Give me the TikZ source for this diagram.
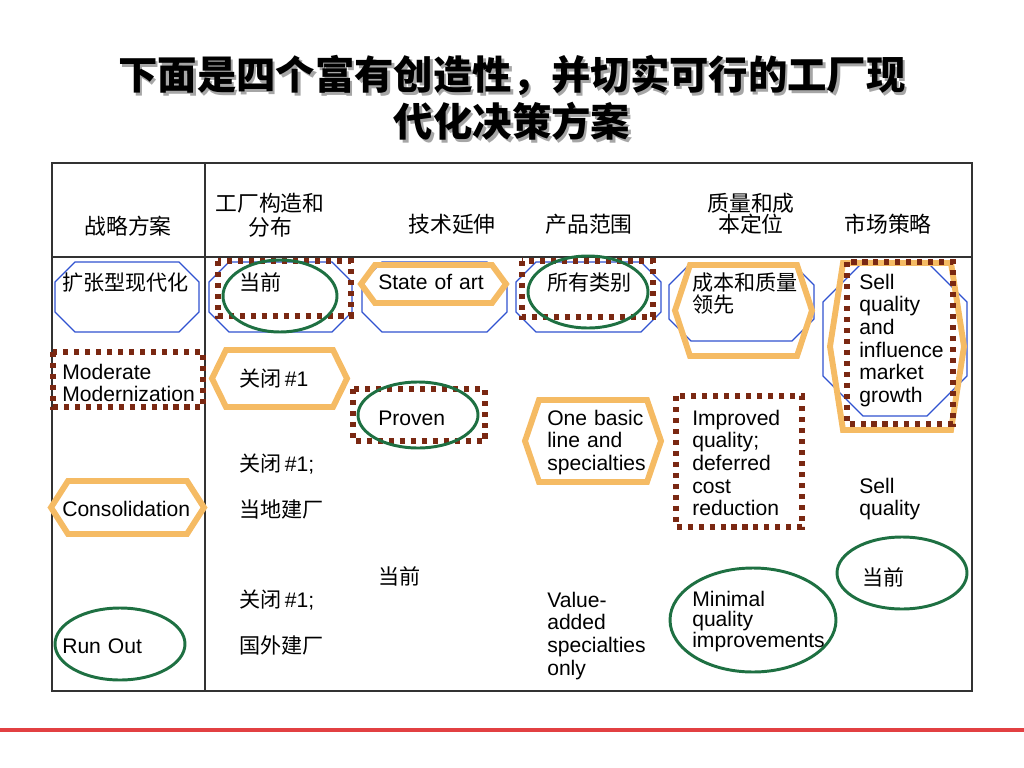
\documentclass[tikz,border=0pt]{standalone}
\usepackage{fontspec}
\setmainfont{Liberation Sans}
\newfontfamily\cjk{Noto Sans CJK SC}
\usetikzlibrary{positioning}
\definecolor{octblue}{RGB}{48,82,208}
\definecolor{hexorange}{RGB}{245,187,100}
\definecolor{dotbrown}{RGB}{122,40,18}
\definecolor{ringgreen}{RGB}{30,112,66}
\definecolor{rulered}{RGB}{226,64,66}
\definecolor{gridgray}{RGB}{50,50,50}
\newcommand{\zh}[1]{{\cjk #1}}
\newcommand{\octbox}[5]{\draw[octline] ({#1+#5},#2) -- ({#3-#5},#2) -- (#3,{#2+#5}) -- (#3,{#4-#5}) -- ({#3-#5},#4) -- ({#1+#5},#4) -- (#1,{#4-#5}) -- (#1,{#2+#5}) -- cycle;}
\newcommand{\hexbox}[5]{\draw[hexline] (#1,{(#2+#4)/2}) -- ({#1+#5},#2) -- ({#3-#5},#2) -- (#3,{(#2+#4)/2}) -- ({#3-#5},#4) -- ({#1+#5},#4) -- cycle;}
\begin{document}
\begin{tikzpicture}[x=0.025cm,y=-0.025cm,
		octline/.style={draw=octblue,line width=0.8pt},
		hexline/.style={draw=hexorange,line width=4.2pt},
		dotline/.style={draw=dotbrown,line width=3.6pt,dash pattern=on 3.6pt off 4.2pt},
		ring/.style={draw=ringgreen,line width=2.1pt},
		gridline/.style={draw=gridgray,line width=1pt},
		cell/.style={anchor=base west,inner sep=0pt,text width=4.5cm,align=left,font=\fontsize{15}{16.15}\selectfont},
		head/.style={anchor=base,inner sep=0pt,text width=4cm,align=center,font=\cjk\fontsize{15.5}{15}\selectfont},
		titletext/.style={anchor=base,inner sep=0pt,text width=24cm,align=center,font=\cjk\bfseries\fontsize{28}{33.4}\selectfont}]
		\useasboundingbox (0,0) rectangle (1024,768);
		
		\node[titletext,text=black!35] (titleshadow) at (514.5,92.5) {下面是四个富有创造性，并切实可行的工厂现\\代化决策方案};
		\node[titletext]               (title)       at (512,90) {下面是四个富有创造性，并切实可行的工厂现\\代化决策方案};
		
		\draw[gridline] (52,163) rectangle (972,691);
		\draw[gridline] (205,163) -- (205,691);
		\draw[gridline] (52,257) -- (972,257);
		
		\node[head] (hStrategy) at (128,234) {战略方案};
		\node[head] (hPlant)    at (270,211) {工厂构造和\\[2.5pt]分布};
		\node[head] (hTech)     at (452,232) {技术延伸};
		\node[head] (hRange)    at (589,232) {产品范围};
		\node[head] (hQuality)  at (751,211) {质量和成\\本定位};
		\node[head] (hMarket)   at (888,232) {市场策略};
		
		\octbox{55}{262}{199}{332}{20}
		\octbox{209}{262}{352}{332}{20}
		\octbox{362}{262}{507}{332}{20}
		\octbox{516}{262}{661}{332}{20}
		\octbox{669}{263}{814}{341}{22}
		\octbox{823}{262}{967}{416}{40}
		
		\hexbox{361}{265}{506}{303}{14}
		\hexbox{212}{350}{347}{407}{14}
		\hexbox{51}{481}{204}{534}{17}
		\hexbox{525}{400}{661}{482}{14}
		\hexbox{675}{265}{812}{356}{15}
		\hexbox{830}{263}{964}{430}{13}
		
		\draw[dotline] (218,261) rectangle (351,316);
		\draw[dotline] (53,352) rectangle (203,407);
		\draw[dotline] (353,389) rectangle (485,441);
		\draw[dotline] (522,261) rectangle (653,317);
		\draw[dotline] (676,396) rectangle (802,527);
		\draw[dotline] (847,262) rectangle (953,424);
		
		\draw[ring] (280,296) ellipse [x radius=57, y radius=36];
		\draw[ring] (588,292) ellipse [x radius=60, y radius=36];
		\draw[ring] (418,415) ellipse [x radius=60, y radius=33];
		\draw[ring] (120,644) ellipse [x radius=65, y radius=36];
		\draw[ring] (753,620) ellipse [x radius=83, y radius=52];
		\draw[ring] (902,573) ellipse [x radius=65, y radius=36];
		
		\node[cell] (expand)      at (62,290)  {\zh{扩张型现代化}};
		\node[cell] (moderate)    at (62,379)  {Moderate\\Modernization};
		\node[cell] (consol)      at (62,516)  {Consolidation};
		\node[cell] (runOut)      at (62,653)  {Run Out};
		\node[cell] (plantNow)    at (239,290) {\zh{当前}};
		\node[cell] (closeA)      at (239,386) {\zh{关闭}\,\#1};
		\node[cell] (closeB)      at (239,471) {\zh{关闭}\,\#1;};
		\node[cell] (buildLocal)  at (239,517) {\zh{当地建厂}};
		\node[cell] (closeC)      at (239,607) {\zh{关闭}\,\#1;};
		\node[cell] (buildAbroad) at (239,653) {\zh{国外建厂}};
		\node[cell] (stateArt)    at (378,289) {State of art};
		\node[cell] (proven)      at (378,425) {Proven};
		\node[cell] (techNow)     at (378,584) {\zh{当前}};
		\node[cell] (allKinds)    at (547,290) {\zh{所有类别}};
		\node[cell] (oneBasic)    at (547,425) {One basic\\line and\\specialties};
		\node[cell] (valueAdd)    at (547,607) {Value-\\added\\specialties\\only};
		\node[cell] (costLead)    at (692,290) {\zh{成本和质量}\\\zh{领先}};
		\node[cell] (improved)    at (692,425) {Improved\\quality;\\deferred\\cost\\reduction};
		\node[cell,font=\fontsize{15}{14.9}\selectfont] (minimal) at (692,606) {Minimal\\quality\\improvements};
		\node[cell] (sellGrowth)  at (859,289) {Sell\\quality\\and\\influence\\market\\growth};
		\node[cell] (sellQuality) at (859,493) {Sell\\quality};
		\node[cell] (marketNow)   at (862,585) {\zh{当前}};
		
		\draw[rulered,line width=2.8pt] (0,730) -- (1024,730);
\end{tikzpicture}
\end{document}
